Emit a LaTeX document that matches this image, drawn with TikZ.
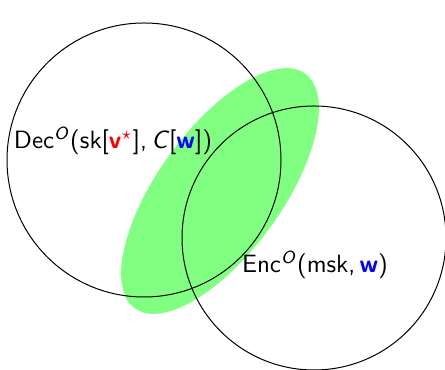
\documentclass[tikz,border=0pt]{standalone}
\usepackage{amsmath,amssymb}
\usepackage{tikz}
\usepackage{xcolor}
\definecolor{lightgreen}{RGB}{128,255,128}

\begin{document}
\begin{tikzpicture}[x=0.4pt,y=-0.4pt,font=\sffamily]
\useasboundingbox (0,0) rectangle (445,370);
\clip (0,0) rectangle (445,370);
\fill[lightgreen,rotate around={54:(220,191)}] (220,191) ellipse [x radius=145, y radius=62];
\draw (144,160) circle [radius=137];
\draw (314,238) circle [radius=132];
\node (dec) at (113,141) {Dec\textsuperscript{\textit{O}}(sk[\textcolor{red}{\textbf{v}$^{\star}$}],\,\textit{C}[\textcolor{blue}{\textbf{w}}])};
\node (enc) at (315,265) {Enc\textsuperscript{\textit{O}}(msk,\,\textcolor{blue}{\textbf{w}})};
\end{tikzpicture}
\end{document}
